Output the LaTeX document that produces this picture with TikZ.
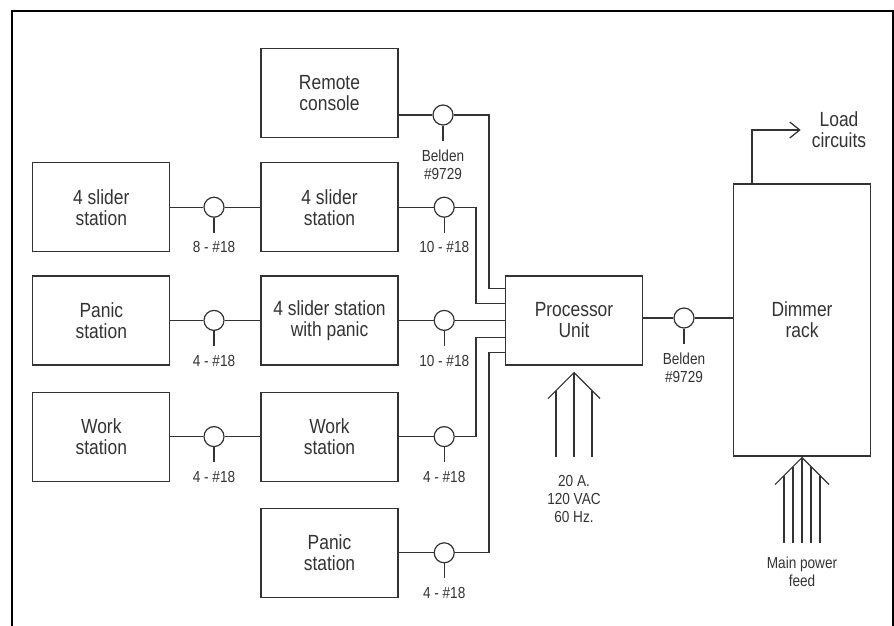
\documentclass[tikz,border=0pt]{standalone}
\usepackage{fontspec}
\setmainfont{Liberation Sans}[FakeStretch=0.85]
\usepackage{xcolor}
\usepackage{tikz}
\usetikzlibrary{arrows.meta,positioning,calc}
\definecolor{ink}{HTML}{333333}

\begin{document}
\begin{tikzpicture}[
				x=1pt, y=-1pt,
				box/.style={rectangle, draw=ink, line width=1.2pt, align=center, text=ink, minimum width=137pt, minimum height=89pt, font=\fontsize{20.5}{21}\selectfont},
				tap/.style={circle, draw=ink, fill=white, line width=1.2pt, minimum size=20pt, inner sep=0pt},
				tag/.style={inner sep=0pt, outer ysep=9pt, align=center, text=ink, font=\fontsize{16}{18.5}\selectfont},
				note/.style={inner sep=0pt, align=center, text=ink, font=\fontsize{16}{18}\selectfont},
				wire/.style={draw=ink, line width=1.2pt}
				]
				\useasboundingbox (0,0) rectangle (894,626);
				\draw [line width=2.5pt] (12,626) -- (12,11) -- (893,11) -- (893,626);
				
				\node (RC) [box] at (329.5,93) {Remote\\console};
				\node (S2) [box, below=24pt of RC] {4 slider\\station};
				\node (SP) [box, below=23pt of S2] {4 slider station\\with panic};
				\node (W2) [box, below=26pt of SP] {Work\\station};
				\node (P2) [box, below=26pt of W2] {Panic\\station};
				
				\node (S1) [box, left=90pt of S2] {4 slider\\station};
				\node (P1) [box, left=90pt of SP] {Panic\\station};
				\node (W1) [box, left=90pt of W2] {Work\\station};
				
				\node (PU) [box] at (574,320.5) {Processor\\Unit};
				\node (DR) [box, minimum height=272pt] at (802,320) {Dimmer\\rack};
				\node (LC) [note, inner xsep=11pt, font=\fontsize{20.5}{21}\selectfont] at (839,130) {Load\\circuits};
				
				% cable taps
				\node (tS1) [tap, right=33pt of S1] {};
				\node (tP1) [tap, right=33pt of P1] {};
				\node (tW1) [tap, right=33pt of W1] {};
				\node (tRC) [tap] at (443,115) {};
				\node (tS2) [tap, right=35pt of S2] {};
				\node (tSP) [tap, right=35pt of SP] {};
				\node (tW2) [tap, right=35pt of W2] {};
				\node (tP2) [tap, right=35pt of P2] {};
				\node (tPU) [tap] at (684,318) {};
				
				\node (lS1) [tag, below=15pt of tS1] {8 - \#18};
				\node (lP1) [tag, below=15pt of tP1] {4 - \#18};
				\node (lW1) [tag, below=15pt of tW1] {4 - \#18};
				\node (lRC) [tag, below=15pt of tRC] {Belden\\\#9729};
				\node (lS2) [tag, below=15pt of tS2] {10 - \#18};
				\node (lSP) [tag, below=15pt of tSP] {10 - \#18};
				\node (lW2) [tag, below=15pt of tW2] {4 - \#18};
				\node (lP2) [tag, below=15pt of tP2] {4 - \#18};
				\node (lPU) [tag, below=15pt of tPU] {Belden\\\#9729};
				
				\foreach \t in {S1,P1,W1,RC,S2,SP,W2,P2,PU}
				\draw [wire] (t\t.south) -- (l\t.north);
				
				% bus bends
				\coordinate (bo) at (489,0);
				\coordinate (bi) at (476,0);
				
				\draw [wire] (S1) -- (tS1) -- (S2);
				\draw [wire] (P1) -- (tP1) -- (SP);
				\draw [wire] (W1) -- (tW1) -- (W2);
				\draw [wire] (RC.east |- tRC) -- (tRC) -- (tRC -| bo) |- ([yshift=32pt]PU.west);
				\draw [wire] (S2) -- (tS2) -- (tS2 -| bi) |- ([yshift=17pt]PU.west);
				\draw [wire] (SP) -- (tSP) -- (SP -| PU.west);
				\draw [wire] (W2) -- (tW2) -- (tW2 -| bi) |- ([yshift=-17pt]PU.west);
				\draw [wire] (P2) -- (tP2) -- (tP2 -| bo) |- ([yshift=-32pt]PU.west);
				\draw [wire] (PU.east |- tPU) -- (tPU) -- (tPU -| DR.west);
				\draw [wire, -{Straight Barb[length=10pt, width=16pt]}] ([xshift=-50pt]DR.north) |- (LC.west);
				
				% power feeds
				\coordinate (ac) at ([yshift=-7pt]PU.south);
				\draw [wire] ($(ac)+(-26,26)$) -- (ac) -- ($(ac)+(26,26)$);
				\foreach \dx in {-18,0,18}
				\draw [wire] ($(ac)+(\dx,{abs(\dx)})$) -- ($(ac)+(\dx,84)$);
				\node (acn) [note, below=103pt of ac] {20 A.\\120 VAC\\60 Hz.};
				
				\coordinate (mf) at ([yshift=-1pt]DR.south);
				\draw [wire] ($(mf)+(-27,27)$) -- (mf) -- ($(mf)+(27,27)$);
				\foreach \dx in {-18,-9,0,9,18}
				\draw [wire] ($(mf)+(\dx,{abs(\dx)})$) -- ($(mf)+(\dx,85)$);
				\node (mfn) [note, below=99pt of mf] {Main power\\feed};
			\end{tikzpicture}
\end{document}
